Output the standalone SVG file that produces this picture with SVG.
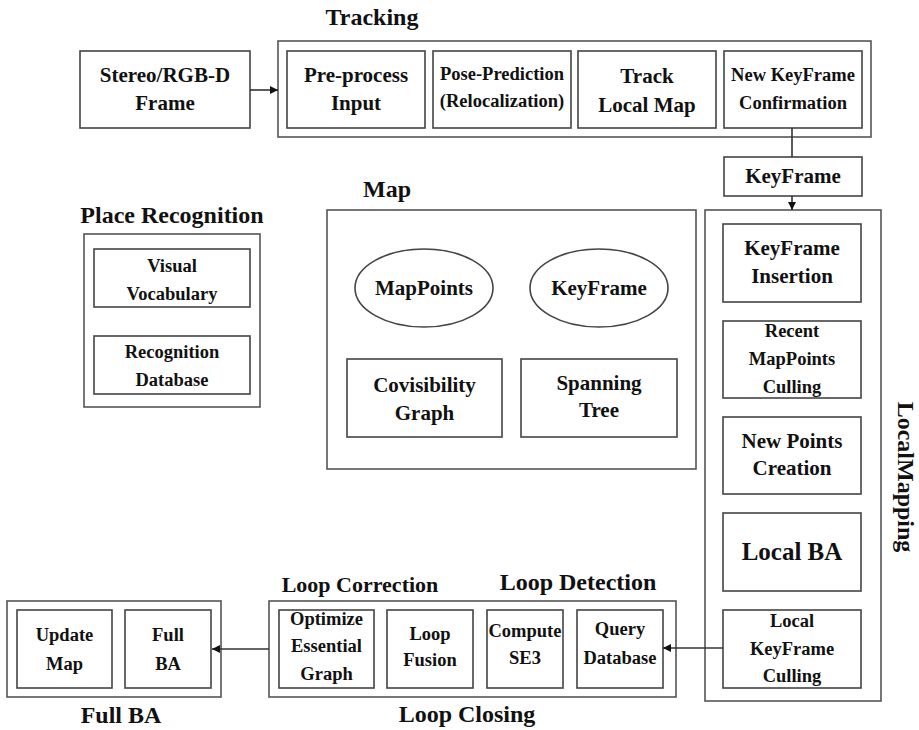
<svg xmlns="http://www.w3.org/2000/svg" width="919" height="730" viewBox="0 0 919 730" font-family="'Liberation Serif', 'Times New Roman', serif" font-weight="bold">
<defs>
<marker id="arr" viewBox="0 0 10 10" refX="10" refY="5" markerWidth="8" markerHeight="8" markerUnits="userSpaceOnUse" orient="auto">
<path d="M0,0 L10,5 L0,10 z" fill="#111"/>
</marker>
</defs>
<style>
rect, ellipse { fill: #fff; stroke: #444; stroke-width: 1.6; }
.outer { stroke: #555; }
text { font-family: "Liberation Serif", "Times New Roman", serif; font-weight: bold; fill: #111; text-anchor: middle; }
.t { font-family: "Liberation Serif", "Times New Roman", serif; font-size: 24px; }
.m { font-family: "Liberation Serif", "Times New Roman", serif; font-size: 21px; }
.s { font-family: "Liberation Serif", "Times New Roman", serif; font-size: 18.5px; }
.conn line { stroke: #333; stroke-width: 1.6; }
</style>
<rect width="919" height="730" style="fill:#fff;stroke:none"/>

<g id="title-tracking"><text class="t" x="372" y="25">Tracking</text></g>
<g id="stereo"><rect x="80" y="51" width="170" height="77"/><text class="m" x="165" y="82">Stereo/RGB-D</text><text class="m" x="165" y="110">Frame</text></g>
<g id="tracking"><rect class="outer" x="278" y="41" width="593" height="96"/></g>
<g id="preprocess"><rect x="287" y="51" width="138" height="77"/><text class="m" x="356" y="82">Pre-process</text><text class="m" x="356" y="110">Input</text></g>
<g id="pose"><rect x="433" y="51" width="138" height="77"/><text class="s" x="502" y="80">Pose-Prediction</text><text class="s" x="502" y="107">(Relocalization)</text></g>
<g id="tracklocal"><rect x="578" y="51" width="138" height="77"/><text class="m" x="647" y="83">Track</text><text class="m" x="647" y="112">Local Map</text></g>
<g id="newkf"><rect x="724" y="51" width="138" height="77"/><text class="s" x="793" y="81">New KeyFrame</text><text class="s" x="793" y="109">Confirmation</text></g>
<g id="keyframe"><rect x="724" y="157" width="138" height="39"/><text class="m" x="793" y="183">KeyFrame</text></g>

<g id="placerec"><text class="t" x="172" y="223">Place Recognition</text><rect class="outer" x="84" y="234" width="176" height="173"/>
<rect x="94" y="249" width="156" height="58"/><text class="s" x="172" y="272">Visual</text><text class="s" x="172" y="300">Vocabulary</text>
<rect x="94" y="336" width="156" height="58"/><text class="s" x="172" y="358">Recognition</text><text class="s" x="172" y="386">Database</text></g>

<g id="map"><text class="t" x="387" y="197">Map</text><rect class="outer" x="327" y="210" width="369" height="259"/>
<ellipse cx="424" cy="288" rx="69" ry="39"/><text class="m" x="424" y="295">MapPoints</text>
<ellipse cx="599" cy="288" rx="69" ry="39"/><text class="m" x="599" y="295">KeyFrame</text>
<rect x="347" y="359" width="155" height="78"/><text class="m" x="424.5" y="392">Covisibility</text><text class="m" x="424.5" y="420">Graph</text>
<rect x="521" y="359" width="156" height="78"/><text class="m" x="599" y="390">Spanning</text><text class="m" x="599" y="417">Tree</text></g>

<g id="localmapping"><rect class="outer" x="705" y="210" width="176" height="491"/>
<text class="t" transform="translate(898,477) rotate(90)" x="0" y="0">LocalMapping</text>
<rect x="723" y="224" width="138" height="78"/><text class="m" x="792" y="255">KeyFrame</text><text class="m" x="792" y="283">Insertion</text>
<rect x="723" y="321" width="138" height="77"/><text class="s" x="792" y="337">Recent</text><text class="s" x="792" y="365">MapPoints</text><text class="s" x="792" y="393">Culling</text>
<rect x="723" y="417" width="138" height="77"/><text class="m" x="792" y="448">New Points</text><text class="m" x="792" y="475">Creation</text>
<rect x="723" y="513" width="138" height="78"/><text class="t" x="792" y="560" style="font-size:25px">Local BA</text>
<rect x="723" y="610" width="138" height="78"/><text class="s" x="792" y="627">Local</text><text class="s" x="792" y="655">KeyFrame</text><text class="s" x="792" y="682">Culling</text></g>

<g id="loopclosing"><rect class="outer" x="269" y="601" width="407" height="96"/>
<text class="t" x="360" y="592" style="font-size:22px">Loop Correction</text>
<text class="t" x="578" y="590">Loop Detection</text>
<text class="t" x="467" y="722">Loop Closing</text>
<rect x="279" y="610" width="95" height="78"/><text class="s" x="326.5" y="625">Optimize</text><text class="s" x="326.5" y="652">Essential</text><text class="s" x="326.5" y="680">Graph</text>
<rect x="387" y="610" width="86" height="78"/><text class="s" x="430" y="640">Loop</text><text class="s" x="430" y="666">Fusion</text>
<rect x="487" y="610" width="76" height="78"/><text class="s" x="525" y="637">Compute</text><text class="s" x="525" y="664">SE3</text>
<rect x="577" y="610" width="86" height="78"/><text class="s" x="620" y="635">Query</text><text class="s" x="620" y="664">Database</text></g>

<g id="fullba"><rect class="outer" x="7" y="601" width="214" height="96"/>
<text class="t" x="121" y="723">Full BA</text>
<rect x="17" y="610" width="95" height="78"/><text class="s" x="64.5" y="641">Update</text><text class="s" x="64.5" y="670">Map</text>
<rect x="125" y="610" width="86" height="78"/><text class="s" x="168" y="641">Full</text><text class="s" x="168" y="670">BA</text></g>

<g id="connectors" class="conn">
<line x1="250" y1="90" x2="278" y2="90" marker-end="url(#arr)"/>
<line x1="792" y1="128" x2="792" y2="157"/>
<line x1="792" y1="196" x2="792" y2="210" marker-end="url(#arr)"/>
<line x1="723" y1="648" x2="663" y2="648" marker-end="url(#arr)"/>
<line x1="269" y1="649" x2="212" y2="649" marker-end="url(#arr)"/>
</g>
</svg>
